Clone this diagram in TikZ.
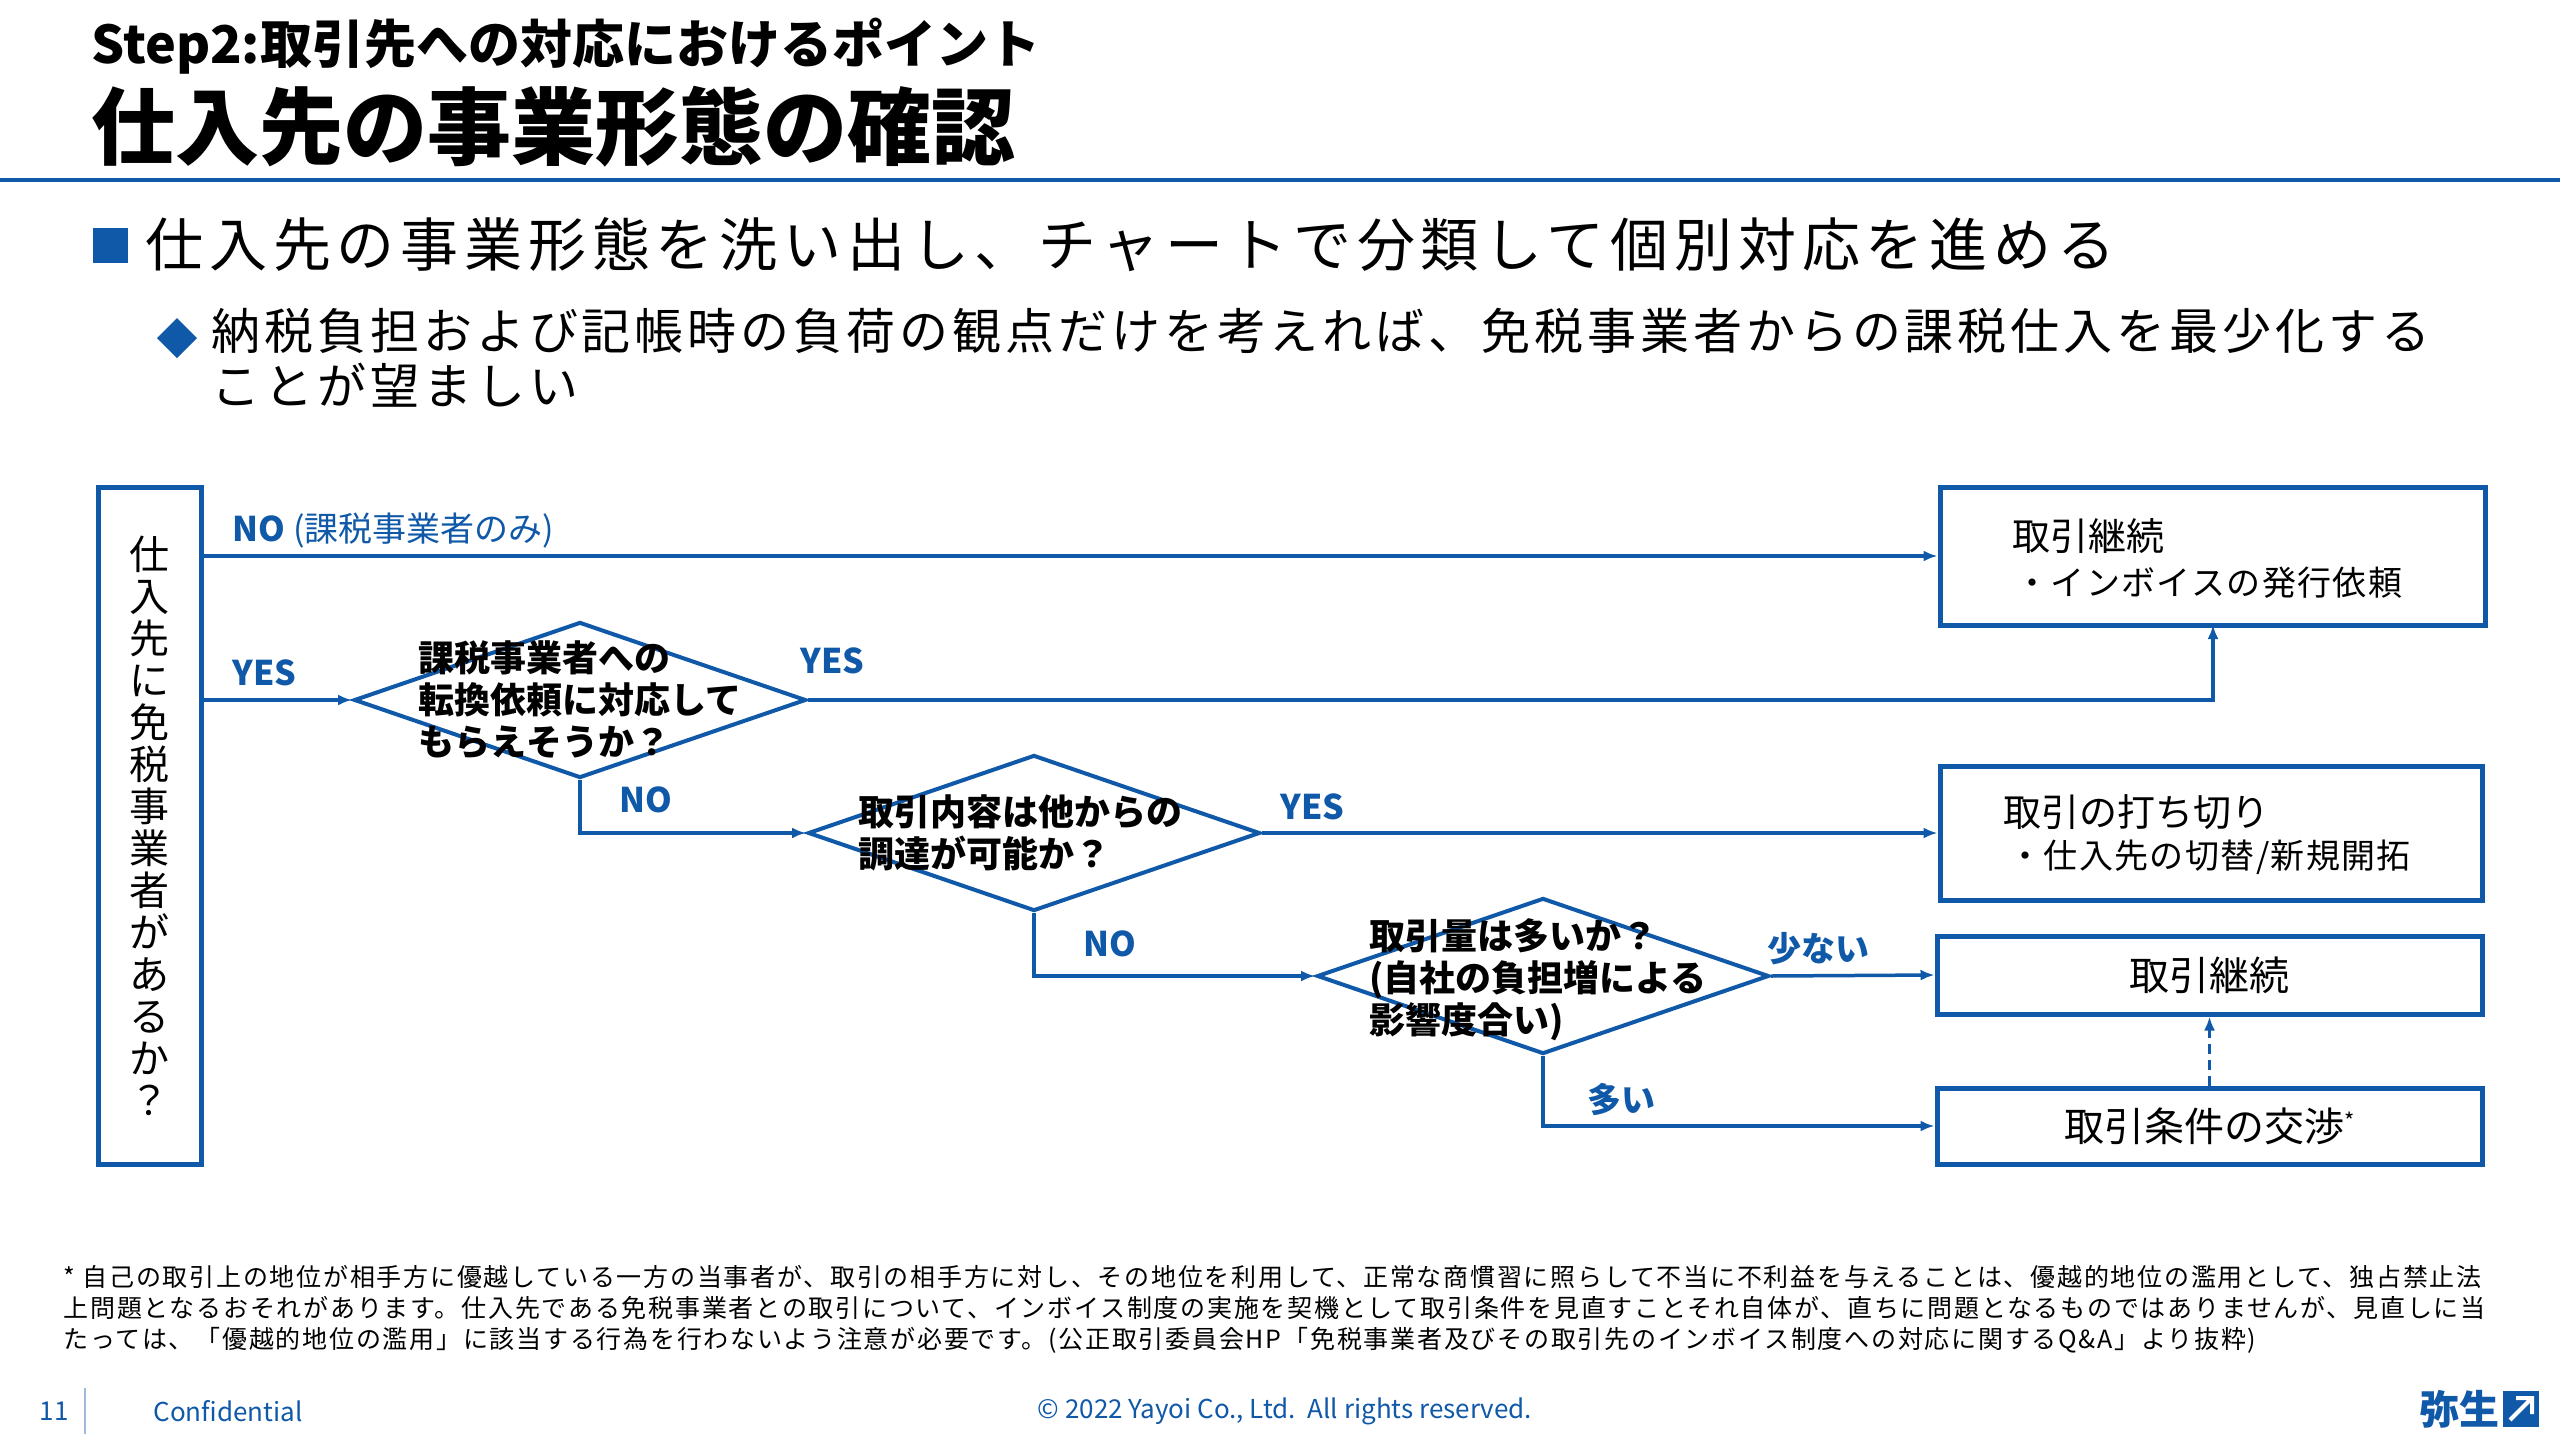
\documentclass[tikz,border=0pt]{standalone}
\usepackage{fontspec}
\setmainfont{Noto Sans CJK JP}
\usetikzlibrary{positioning}
\usetikzlibrary{shapes.geometric}
\definecolor{ybl}{RGB}{16,88,168}
\tikzset{
  flow/.style={ybl, line width=3.5pt, -{Latex[length=14pt,width=11pt]}},
  res/.style={draw=ybl, line width=5pt, rectangle, inner sep=0pt},
  dia/.style={draw=ybl, line width=4pt, diamond, minimum width=452pt, minimum height=156pt, inner sep=0pt},
  dtxt/.style={font=\fontsize{36}{42}\selectfont\bfseries, align=left},
  lab/.style={ybl, font=\fontsize{34}{40}\selectfont\bfseries},
  btxt/.style={font=\fontsize{38}{46}\selectfont, anchor=west}
}
\usetikzlibrary{arrows.meta}
\begin{document}
\begin{tikzpicture}[x=1pt, y=-1pt]
    \useasboundingbox (0, 0) rectangle (2560, 1440);
    % header
    \node[anchor=west, font=\fontsize{52}{58}\selectfont\bfseries] (step) at (88, 46) {Step2:取引先への対応におけるポイント};
    \node[anchor=west, font=\fontsize{84}{92}\selectfont\bfseries] (title) at (88, 127) {仕入先の事業形態の確認};
    \draw[ybl, line width=4pt] (0, 180) -- (2560, 180);
    \fill[ybl] (93, 228) rectangle (128, 263);
    \node[anchor=west, font=\fontsize{58}{66}\selectfont\addfontfeature{LetterSpace=10}] (b1) at (142, 245) {仕入先の事業形態を洗い出し、チャートで分類して個別対応を進める};
    \fill[ybl] (177, 318) -- (197, 338) -- (177, 358) -- (157, 338) -- cycle;
    \node[anchor=north west, align=left, font=\fontsize{49}{55}\selectfont\addfontfeature{LetterSpace=8}] (b2) at (208, 305) {納税負担および記帳時の負荷の観点だけを考えれば、免税事業者からの課税仕入を最少化する\\ことが望ましい};

    % start box
    \node[res, minimum width=103pt, minimum height=677pt] (start) at (149.5, 825.5) {};
    \node[align=center, font=\fontsize{40}{42}\selectfont] at (start) {仕\\入\\先\\に\\免\\税\\事\\業\\者\\が\\あ\\る\\か\\？};

    % result boxes
    \node[res, minimum width=545pt, minimum height=138pt] (keep1) at (2212.5, 556) {};
    \node[btxt] at (2009, 536) {取引継続};
    \node[btxt, font=\fontsize{34}{40}\selectfont\addfontfeature{LetterSpace=4}] at (2012, 583) {・インボイスの発行依頼};
    \node[res, minimum width=542pt, minimum height=134pt] (stop) at (2211, 833) {};
    \node[btxt] at (2000, 812) {取引の打ち切り};
    \node[btxt, font=\fontsize{34}{40}\selectfont\addfontfeature{LetterSpace=4}] at (2005, 857) {・仕入先の切替/新規開拓};
    \node[res, minimum width=545pt, minimum height=78pt, font=\fontsize{40}{46}\selectfont] (keep2) at (2209.5, 975) {取引継続};
    \node[res, minimum width=545pt, minimum height=76pt, font=\fontsize{40}{46}\selectfont] (nego) at (2209.5, 1126) {取引条件の交渉\raisebox{12pt}{\fontsize{22}{24}\selectfont *}};

    % decisions
    \node[dia] (d1) at (580, 700) {};
    \node[dtxt] at (d1) {課税事業者への\\転換依頼に対応して\\もらえそうか？};
    \node[dia] (d2) at (1034, 833) {};
    \node[dtxt] at (1020, 833) {取引内容は他からの\\調達が可能か？};
    \node[dia] (d3) at (1543, 976) {};
    \node[dtxt] at (1538, 980) {取引量は多いか？\\(自社の負担増による\\影響度合い)};

    % connectors
    \draw[flow] (start.east |- keep1.west) -- (keep1.west);
    \draw[flow] (start.east |- d1.west) -- (d1.west);
    \draw[flow] (d1.east) -| (2213, 700) -- (2213, 625);
    \draw[flow] (d1.south) |- (d2.west);
    \draw[flow] (d2.east) -- (stop.west);
    \draw[flow] (d2.south) |- (d3.west);
    \draw[flow] (d3.east) -- (keep2.west);
    \draw[flow] (d3.south) |- (nego.west);
    \draw[flow, dashed, dash pattern=on 10pt off 6pt] (nego.north) -- (keep2.south);

    \node[lab, anchor=west] at (229, 531) {NO \mdseries(課税事業者のみ)};
    \node[lab, anchor=west] at (229, 673) {YES};
    \node[lab, anchor=west] at (797, 661) {YES};
    \node[lab, anchor=west] at (616, 800) {NO};
    \node[lab, anchor=west] at (1277, 807) {YES};
    \node[lab, anchor=west] at (1080, 944) {NO};
    \node[lab, anchor=west] at (1764, 949) {少ない};
    \node[lab, anchor=west] at (1584, 1099) {多い};

    % footnote
    \node[anchor=north west, align=left, font=\fontsize{25}{31}\selectfont\addfontfeature{LetterSpace=7}] (note) at (60, 1262) {* 自己の取引上の地位が相手方に優越している一方の当事者が、取引の相手方に対し、その地位を利用して、正常な商慣習に照らして不当に不利益を与えることは、優越的地位の濫用として、独占禁止法\\上問題となるおそれがあります。仕入先である免税事業者との取引について、インボイス制度の実施を契機として取引条件を見直すことそれ自体が、直ちに問題となるものではありませんが、見直しに当\\たっては、「優越的地位の濫用」に該当する行為を行わないよう注意が必要です。(公正取引委員会HP「免税事業者及びその取引先のインボイス制度への対応に関するQ\&A」より抜粋)};

    % footer
    \node[ybl, font=\fontsize{26}{30}\selectfont] (page) at (54, 1411) {11};
    \draw[ybl!40, line width=1.5pt] (85, 1388) -- (85, 1434);
    \node[ybl, anchor=west, font=\fontsize{26}{30}\selectfont] (conf) at (150, 1411) {Confidential};
    \node[ybl, font=\fontsize{26}{30}\selectfont] (copy) at (1285, 1411) {© 2022 Yayoi Co., Ltd.\ \ All rights reserved.};
    \node[ybl, anchor=east, font=\fontsize{40}{44}\selectfont\bfseries] (logo) at (2503, 1409) {弥生};
    \fill[ybl] (2503, 1391) rectangle (2539, 1427);
    \draw[white, line width=4pt] (2510, 1420) -- (2532, 1398) (2516, 1398) -- (2532, 1398) -- (2532, 1414);
\end{tikzpicture}
\end{document}
